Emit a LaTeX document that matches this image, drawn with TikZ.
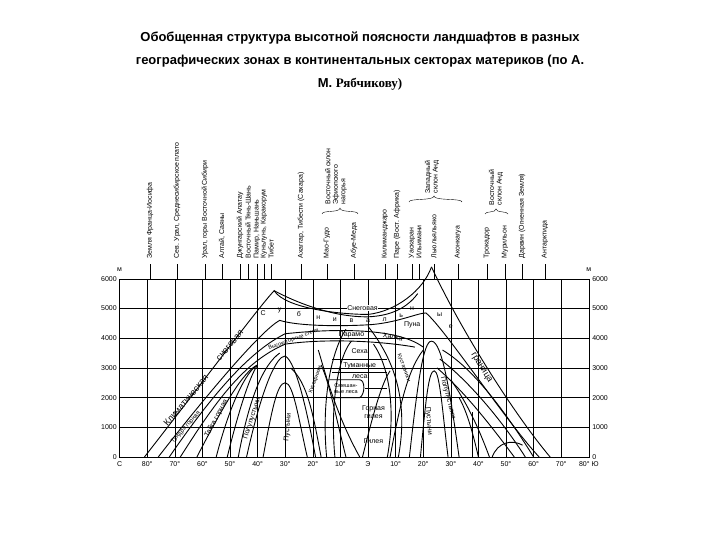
\documentclass[tikz,border=0pt]{standalone}
\usepackage{fontspec}
\setmainfont{Liberation Sans}
\newfontfamily\serifb{Liberation Serif}
\begin{document}
\begin{tikzpicture}[x=1pt,y=1pt,
  lab/.style={rotate=90,anchor=west,inner sep=0.5pt,font=\fontsize{7}{7.6}\selectfont},
  zl/.style={font=\fontsize{7}{8}\selectfont,inner sep=0.5pt},
  ax/.style={font=\fontsize{7}{8}\selectfont,inner sep=0.5pt},
  crv/.style={line width=0.9pt},
  grid/.style={line width=0.4pt}]
\useasboundingbox (0,0) rectangle (720,540);
\fill[white] (0,0) rectangle (720,540);
% title
\node[font=\bfseries\fontsize{13}{15}\selectfont] (t1) at (360,502) {Обобщенная структура высотной поясности ландшафтов в разных};
\node[font=\bfseries\fontsize{13}{15}\selectfont] (t2) at (360,479) {географических зонах в континентальных секторах материков (по А.};
\node[font=\bfseries\fontsize{13}{15}\selectfont] (t3) at (360,456) {М. {\serifb Рябчикову)}};
% top labels
\foreach \xx/\tt in {150/Земля Франца-Иосифа,177/{Сев. Урал, Среднесибирское плато},205/{Урал, горы Восточной Сибири},222/{Алтай, Саяны},240/Джунгарский Алатау,248/Восточный Тянь-Шань,257/{Памир, Наньшань},264/{Куньлунь, Каракорум},271/Тибет,301/{Ахаггар, Тибести (Сахара)},327/Мао-Гудо,354/Абуе-Меда,385/Килиманджаро,397/{Паре (Вост. Африка)},412/Уаскаран,419/Ильимани,434/Льюльяльяко,458/Аконкагуа,487/Трокадор,505/Мурильон,522/{Дарвин (Огненная Земля)},545/Антарктида}
{\node[lab] at (\xx,281) {\tt}; \draw[grid] (\xx,261) -- (\xx,276);}
\draw (322,326) .. controls (322,330) and (340,327) .. (340,332) .. controls (340,327) and (358,330) .. (358,326);
\node[lab,align=left] at (336,335) {Восточный склон\\Эфиопского\\нагорья};
\draw (409,338) .. controls (409,342) and (434,339) .. (434,344) .. controls (434,339) and (462,342) .. (462,338);
\node[lab,align=left] at (432,346) {Западный\\склон Анд};
\draw (485,326) .. controls (485,329) and (496,327) .. (496,331) .. controls (496,327) and (508,329) .. (508,326);
\node[lab,align=left] at (496,334) {Восточный\\склон Анд};
% chart
\begin{scope}[shift={(368,83)},x=2.76pt,y=29.7pt]
\draw[grid] (-90,0) rectangle (80,6);
\foreach \l in {-80,-70,...,70} \draw[grid] (\l,0) -- (\l,6);
\foreach \h in {1,...,5} \draw[grid] (-90,\h) -- (80,\h);
\foreach \h in {0,1000,...,6000} {\node[ax,anchor=east] at (-90.8,\h/1000) {\h}; \node[ax,anchor=west] at (81,\h/1000) {\h};}
\node[ax] at (-90,6.3) {м}; \node[ax] at (80,6.3) {м};
\foreach \l/\s in {-90/С,-80/80°,-70/70°,-60/60°,-50/50°,-40/40°,-30/30°,-20/20°,-10/10°,0/Э,10/10°,20/20°,30/30°,40/40°,50/50°,60/60°,70/70°}
  \node[ax,anchor=north] at (\l,-0.12) {\s};
\node[ax,anchor=north] at (80,-0.12) {80° Ю};
% envelope
\draw[crv] (-81,0) .. controls (-60,2.5) and (-40,5.0) .. (-34,5.6) .. controls (-30,5.0) and (-10,4.8) .. (0,4.8) .. controls (10,4.9) and (20,5.6) .. (23,6.4);
\draw[crv] (-34,5.6) .. controls (-30,5.4) and (-15,4.7) .. (0,4.72) .. controls (8,4.75) and (14,5.0) .. (18,5.5);
\draw[crv] (23,6.4) .. controls (35,4.0) and (55,1.2) .. (66,0);
% subnival
\draw[crv] (-76,0) .. controls (-55,2.5) and (-38,4.3) .. (-32,4.6) .. controls (-25,4.4) and (-10,4.4) .. (0,4.45) .. controls (10,4.5) and (18,4.85) .. (21,4.85) .. controls (28,4.3) and (50,1.2) .. (62,0);
% inner belts left
\draw[crv] (-72,0) .. controls (-55,2.3) and (-42,3.6) .. (-30,4.15) .. controls (-15,4.3) and (10,4.4) .. (20,3.7);
\draw[crv] (-68,0) .. controls (-55,1.9) and (-45,3.2) .. (-30,3.8) .. controls (-15,4.0) and (5,3.9) .. (17,3.7);
\draw[crv] (-62,0) .. controls (-52,1.8) and (-45,2.9) .. (-40,3.1);
\draw[crv] (-55,0) .. controls (-50,1.8) and (-44,2.9) .. (-40,3.1);
\draw[crv] (-51,0) .. controls (-47,1.5) and (-43,2.7) .. (-40,3.1);
\draw[crv] (-47,0) .. controls (-43,2.0) and (-38,3.1) .. (-32,3.5);
% deserts left
\draw[crv] (-44,0) .. controls (-38,2.5) and (-33,3.4) .. (-30,3.4) .. controls (-26,3.2) and (-22,1.5) .. (-19,0);
\draw[crv] (-38,0) .. controls (-35,1.5) and (-33,2.5) .. (-30,2.5) .. controls (-27,2.5) and (-25,1.2) .. (-22,0);
\draw[crv] (-30,2.5) -- (-30,0);
\draw[crv] (-17,0) .. controls (-20,1.5) and (-22,2.5) .. (-28,3.0);
% central
\draw[crv] (-15,0) .. controls (-17,2.0) and (-13,3.6) .. (-8,4.3);
\draw[crv] (-12,0) .. controls (-14,2.0) and (-10,3.5) .. (-6,3.9);
\draw[crv] (-3,0) .. controls (-12,1.5) and (-16,3.0) .. (-18,3.6);
\draw[crv] (-8,0) .. controls (-12,1.5) and (-14,2.5) .. (-17,3.1);
\draw[crv] (11,0) .. controls (14,1.5) and (12,3.0) .. (0,4.4);
\draw[crv] (7,0) .. controls (10,1.5) and (8,3.0) .. (2,3.8);
\draw[crv] (-2,0) .. controls (2,1.5) and (5,2.5) .. (8,2.9);
\draw[crv] (-13,3.28) -- (7,3.28);
\draw[crv] (-13,2.85) -- (7,2.85);
\draw[crv] (-14,2.6) -- (-3,2.6) .. controls (-1,2.6) and (-1,2.1) .. (-3,2.0) -- (-14,2.0);
\draw[crv] (-1,2.3) -- (7,2.3);
% deserts right
\draw[crv] (15,0) .. controls (18,2.5) and (20,3.9) .. (23,3.9) .. controls (27,3.9) and (30,2.0) .. (33,0);
\draw[crv] (19,0) .. controls (21,2.0) and (22,2.9) .. (24,2.9) .. controls (26,2.9) and (27,1.5) .. (29,0);
\draw[crv] (20,0) -- (20,2.0);
\draw[crv] (8,0) .. controls (12,2.0) and (15,3.0) .. (20,3.6);
% right belts
\draw[crv] (27,3.6) .. controls (38,3.0) and (50,1.5) .. (60,0);
\draw[crv] (26,3.3) .. controls (36,2.6) and (48,1.3) .. (57,0);
\draw[crv] (25,3.0) .. controls (35,2.2) and (45,1.0) .. (53,0);
\draw[crv] (30,2.6) .. controls (36,1.8) and (40,1.0) .. (44,0);
\draw[crv] (33,2.0) .. controls (36,1.5) and (38,0.8) .. (40,0);
\draw[crv] (38,1.5) -- (38,0);
\draw[crv] (45,0) .. controls (47,0.5) and (52,0.6) .. (56,0.4);
% zone labels
\node[zl,fill=white] at (-2,5.03) {Снеговая};
\foreach \l/\h/\c in {-38/4.85/С,-32/4.95/у,-25/4.8/б,-18/4.7/н,-12/4.62/и,-6/4.58/в,0/4.58/а,6/4.62/л,12/4.75/ь,16/5.0/н,26/4.8/ы,30/4.4/е}
  \node[zl] at (\l,\h) {\c};
\node[zl,rotate=50,font=\fontsize{9}{10}\selectfont] at (-66,1.9) {Климатическая};
\node[zl,rotate=50,font=\fontsize{9}{10}\selectfont] at (-50,3.75) {снеговая};
\node[zl,rotate=-58,font=\fontsize{9}{10}\selectfont] at (41,3.0) {граница};
\node[zl,rotate=48,font=\fontsize{6}{7}\selectfont] at (-66,1.0) {Тундра горная};
\node[zl,rotate=62] at (-55,1.3) {Тайга горная};
\node[zl,rotate=72] at (-42,1.3) {Полупустыни};
\node[zl,rotate=85] at (-29,1.0) {Пустыни};
\node[zl,rotate=-85] at (22,1.2) {Пустыни};
\node[zl,rotate=-75] at (29,2.0) {Полупустыни};
\node[zl,rotate=20,font=\fontsize{5.5}{6}\selectfont] at (-27,3.95) {Высокогорные степи};
\node[zl] at (16,4.45) {Пуна};
\node[zl] at (-6,4.12) {Парамо};
\node[zl,rotate=-10] at (9,4.05) {Халка};
\node[zl] at (-3,3.55) {Сеха};
\node[zl] at (-3,3.07) {Туманные};
\node[zl] at (-3,2.7) {леса};
\node[zl,align=center,font=\fontsize{5.5}{6}\selectfont] at (-8,2.3) {Смешан-\\ные леса};
\node[zl,align=center] at (2,1.5) {Горная\\гилея};
\node[zl] at (2,0.55) {Гилея};
\node[zl,rotate=70,font=\fontsize{5.5}{6}\selectfont] at (-19,2.6) {Кустарники};
\node[zl,rotate=-70,font=\fontsize{5.5}{6}\selectfont] at (13,3.0) {Кустарники};
\end{scope}
\end{tikzpicture}
\end{document}
